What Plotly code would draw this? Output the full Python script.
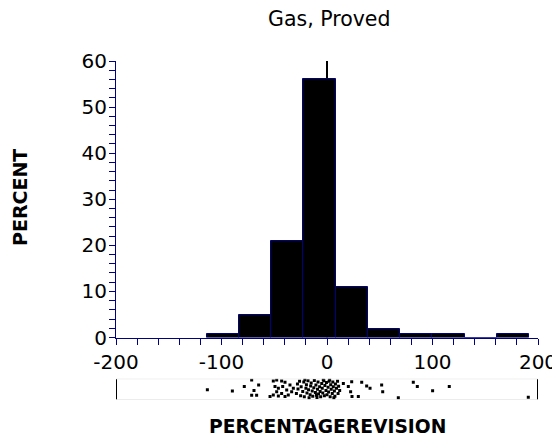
import plotly.graph_objects as go

# Histogram data (percent of observations per bin)
bin_centers = [-98.7, -68.2, -37.6, -7.1, 23.5, 54.0, 84.6, 115.1, 145.7, 176.2]
bin_width = 30.55
percents = [0.75, 4.9, 20.9, 56.0, 10.9, 1.8, 0.7, 0.7, 0.0, 0.7]

# Individual observations shown in the strip below (value, vertical jitter 0-1)
obs_x = [-113.4, -89.7, -78.4, -71.4, -69.2, -71.4, -66.7, -64.8, -54.0,
         -50.9, -47.7, -43.0, -39.8, -49.3, -46.1, -42.0, -38.2, -47.7, -43.0,
         -50.9, -46.1, -39.8, -35.1, -33.5, -36.7, -31.9,
         -29.0, -28.0, -27.5, -26.0, -25.0, -24.5, -23.0, -22.0, -21.5, -20.0,
         -19.5, -19.0, -18.0, -17.5, -16.0, -15.5, -15.0, -14.0, -13.5, -12.5,
         -12.0, -11.0, -10.5, -10.0, -9.0, -8.5, -8.0, -7.0, -6.5, -6.0,
         -5.0, -4.5, -4.0, -3.0, -2.5, -2.0, -1.0, -0.5, 0.0, 1.0,
         1.5, 2.0, 3.0, 3.5, 4.0, 5.0, 5.5, 6.0, 7.0, 7.5,
         8.0, 9.0, 10.0, 10.5, 11.0, 12.0, -21.0, -17.0, -9.5, -3.5,
         2.5, 6.5,
         15.5, 20.2, 23.4, 22.4, 23.7, 29.7, 32.9, 37.6, 40.8, 51.8,
         52.8, 67.6, 81.8, 85.6, 100.1, 115.9, 190.8]
obs_j = [0.48, 0.42, 0.63, 0.94, 0.45, 0.22, 0.22, 0.70, 0.16,
         0.89, 0.94, 0.89, 0.83, 0.63, 0.55, 0.63, 0.47, 0.39, 0.31,
         0.23, 0.19, 0.16, 0.70, 0.39, 0.23, 0.55,
         0.30, 0.75, 0.52, 0.88, 0.20, 0.62, 0.40, 0.85, 0.15, 0.55,
         0.72, 0.33, 0.90, 0.48, 0.25, 0.66, 0.80, 0.42, 0.18, 0.58,
         0.92, 0.35, 0.70, 0.22, 0.50, 0.85, 0.28, 0.62, 0.40, 0.15,
         0.78, 0.55, 0.33, 0.90, 0.20, 0.68, 0.45, 0.82, 0.25, 0.60,
         0.38, 0.88, 0.15, 0.72, 0.50, 0.30, 0.85, 0.62, 0.42, 0.18,
         0.75, 0.55, 0.88, 0.30, 0.65, 0.45, 0.95, 0.10, 0.12, 0.95,
         0.95, 0.10,
         0.78, 0.63, 0.86, 0.39, 0.16, 0.16, 0.83, 0.66, 0.55, 0.70,
         0.39, 0.11, 0.83, 0.63, 0.44, 0.63, 0.13]

x_ticks = [-200, -100, 0, 100, 200]
y_ticks = [0, 10, 20, 30, 40, 50, 60]

NAVY = "#000080"
FONT = "DejaVu Sans"

fig = go.Figure()

fig.add_trace(go.Bar(
    x=bin_centers, y=percents, width=bin_width,
    marker=dict(color="black", line=dict(color=NAVY, width=1)),
    xaxis="x", yaxis="y", showlegend=False,
))

fig.add_trace(go.Scatter(
    x=obs_x, y=obs_j, mode="markers",
    marker=dict(symbol="square", size=3, color="black", line=dict(width=0)),
    xaxis="x2", yaxis="y2", showlegend=False,
))

# reference line at zero, behind the bars
fig.add_shape(type="line", xref="x", yref="y", x0=0, x1=0, y0=0, y1=60,
              line=dict(color="black", width=2), layer="below")

# strip box
fig.add_shape(type="rect", xref="x2", yref="y2", x0=-200, x1=200, y0=0, y1=1,
              line=dict(color="#d9d9d9", width=1))
fig.add_shape(type="line", xref="x2", yref="y2", x0=-200, x1=-200, y0=0.03, y1=0.97,
              line=dict(color="black", width=2))
fig.add_shape(type="line", xref="x2", yref="y2", x0=200, x1=200, y0=0.03, y1=0.97,
              line=dict(color="black", width=2))

# page has an 8px body margin; positions below are page pixels
OFF = 8
W, H = 560 - OFF, 442 - OFF
L = 116 - OFF
R = 560 - 538
T = 61 - OFF
B = H - (400 - OFF)
ph = H - T - B
pw = W - L - R

def py(p):
    return (H - B - (p - OFF)) / ph

def px(p):
    return (p - OFF - L) / pw

fig.update_layout(
    width=W, height=H,
    margin=dict(l=L, r=R, t=T, b=B, autoexpand=False),
    paper_bgcolor="white", plot_bgcolor="white",
    font=dict(family=FONT, color="black"),
    bargap=0,
    xaxis=dict(range=[-200, 200], domain=[0, 1], anchor="y",
               tickvals=x_ticks, ticktext=[str(v) for v in x_ticks],
               ticks="outside", ticklen=6, tickcolor=NAVY, tickwidth=1,
               showline=True, linecolor=NAVY, linewidth=1,
               showgrid=False, zeroline=False,
               tickfont=dict(size=20, family=FONT),
               minor=dict(dtick=20, tick0=0, ticks="outside", ticklen=6,
                          tickcolor=NAVY, tickwidth=1, showgrid=False)),
    yaxis=dict(range=[0, 60], domain=[py(337.5), 1], anchor="x",
               tickvals=y_ticks, ticks="outside", ticklen=6, tickcolor=NAVY,
               tickwidth=1, showline=True, linecolor=NAVY, linewidth=1,
               showgrid=False, zeroline=False, ticklabelstandoff=-2,
               tickfont=dict(size=20, family=FONT),
               minor=dict(dtick=2, tick0=0, ticks="outside", ticklen=6,
                          tickcolor=NAVY, tickwidth=1, showgrid=False)),
    xaxis2=dict(range=[-200, 200], domain=[0, 1], anchor="y2",
                visible=False, showgrid=False, zeroline=False),
    yaxis2=dict(range=[0, 1], domain=[0, py(378.7)], anchor="x2",
                visible=False, showgrid=False, zeroline=False),
    annotations=[
        dict(text="Gas, Proved", xref="paper", yref="paper",
             x=px(329), y=py(19), showarrow=False,
             font=dict(size=20.5, family=FONT), xanchor="center", yanchor="middle"),
        dict(text="<b>PERCENT</b>", xref="paper", yref="paper",
             x=px(20), y=py(198), showarrow=False, textangle=-90,
             font=dict(size=19, family=FONT), xanchor="center", yanchor="middle"),
        dict(text="<b>PERCENTAGEREVISION</b>", xref="paper", yref="paper",
             x=px(327), y=py(427), showarrow=False,
             font=dict(size=18.7, family=FONT), xanchor="center", yanchor="middle"),
    ],
)

fig.write_html("out.html")
